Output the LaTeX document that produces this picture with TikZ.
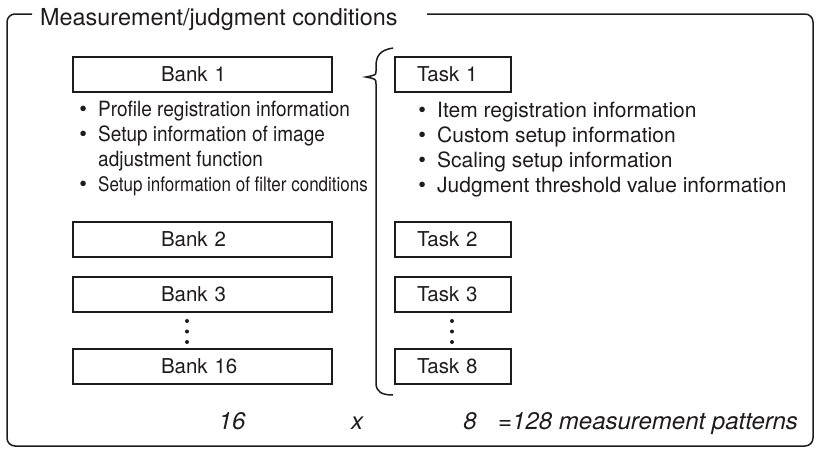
\documentclass[tikz,border=0pt]{standalone}
\usepackage{fontspec}
\setmainfont{TeX Gyre Heros}
\usepackage{graphicx}
\definecolor{ink}{RGB}{30,27,28}
\newcommand{\dotitem}{\llap{\makebox[0pt][c]{\fontsize{22}{22}\selectfont\textbullet}\hspace{15pt}}}

\begin{document}
\begin{tikzpicture}[x=1pt, y=-1pt, color=ink,
  bankbox/.style={draw, line width=2pt, minimum height=35pt, text width=83pt,
    inner xsep=88pt, inner ysep=0pt, align=left, font=\fontsize{20.5}{20.5}\selectfont},
  taskbox/.style={bankbox, text width=72pt, inner xsep=22pt},
  infotext/.style={anchor=base west, inner sep=0pt, font=\fontsize{21}{21}\selectfont},
  count/.style={anchor=base, inner sep=0pt, font=\fontsize{24}{24}\selectfont\itshape}]
  \useasboundingbox (0,0) rectangle (817,448);
  \node[anchor=base west, inner sep=0pt, font=\fontsize{23.4}{23.4}\selectfont] (title) at (40,25)
    {Measurement/judgment conditions};
  \draw[line width=1.5pt, rounded corners=8pt]
    (427,14) -- (813,14) -- (813,446) -- (7,446) -- (7,14) -- (32,14);
  % banks
  \node[bankbox] (bank1) at (202.5,74.5) {Bank 1};
  \node[bankbox] (bank2) at (202.5,239.5) {Bank 2};
  \node[bankbox] (bank3) at (202.5,294.5) {Bank 3};
  \node[bankbox] (bank16) at (202.5,366) {Bank 16};
  \node[infotext] (bankinfo1) at (98,116) {\dotitem\scalebox{0.905}[1]{Profile registration information}};
  \node[infotext] (bankinfo2) at (98,141) {\dotitem\scalebox{0.905}[1]{Setup information of image}};
  \node[infotext] (bankinfo3) at (98,166) {\scalebox{0.905}[1]{adjustment function}};
  \node[infotext, font=\fontsize{20}{20}\selectfont] (bankinfo4) at (98,191)
    {\dotitem\scalebox{0.85}[1]{Setup information of filter conditions}};
  % tasks
  \node[taskbox] (task1) at (453,74.5) {Task 1};
  \node[taskbox] (task2) at (453,239.5) {Task 2};
  \node[taskbox] (task3) at (453,294.5) {Task 3};
  \node[taskbox] (task8) at (453,366) {Task 8};
  \foreach \txt [count=\i] in {Item registration information, Custom setup information,
      Scaling setup information, Judgment threshold value information}
    \node[infotext] (taskinfo\i) at (437,92+25*\i) {\dotitem\txt};
  \foreach \dy in {321,331.5,342} {
    \fill (187,\dy) circle (2pt);
    \fill (452,\dy) circle (2pt);
  }
  % brace
  \draw[line width=1.5pt]
    (393,48) .. controls (380,50) and (376,56) .. (376,66) -- (376,71)
    .. controls (376,75) .. (366,77) .. controls (376,79) .. (376,84)
    -- (376,383) .. controls (376,392) and (382,395) .. (393,395);
  % counts
  \node[count] (nbank) at (232,429) {16};
  \node[count] (times) at (357,429) {x};
  \node[count] (ntask) at (470,429) {8};
  \node[count, anchor=base west] (total) at (498,429) {=128 measurement patterns};
\end{tikzpicture}
\end{document}
